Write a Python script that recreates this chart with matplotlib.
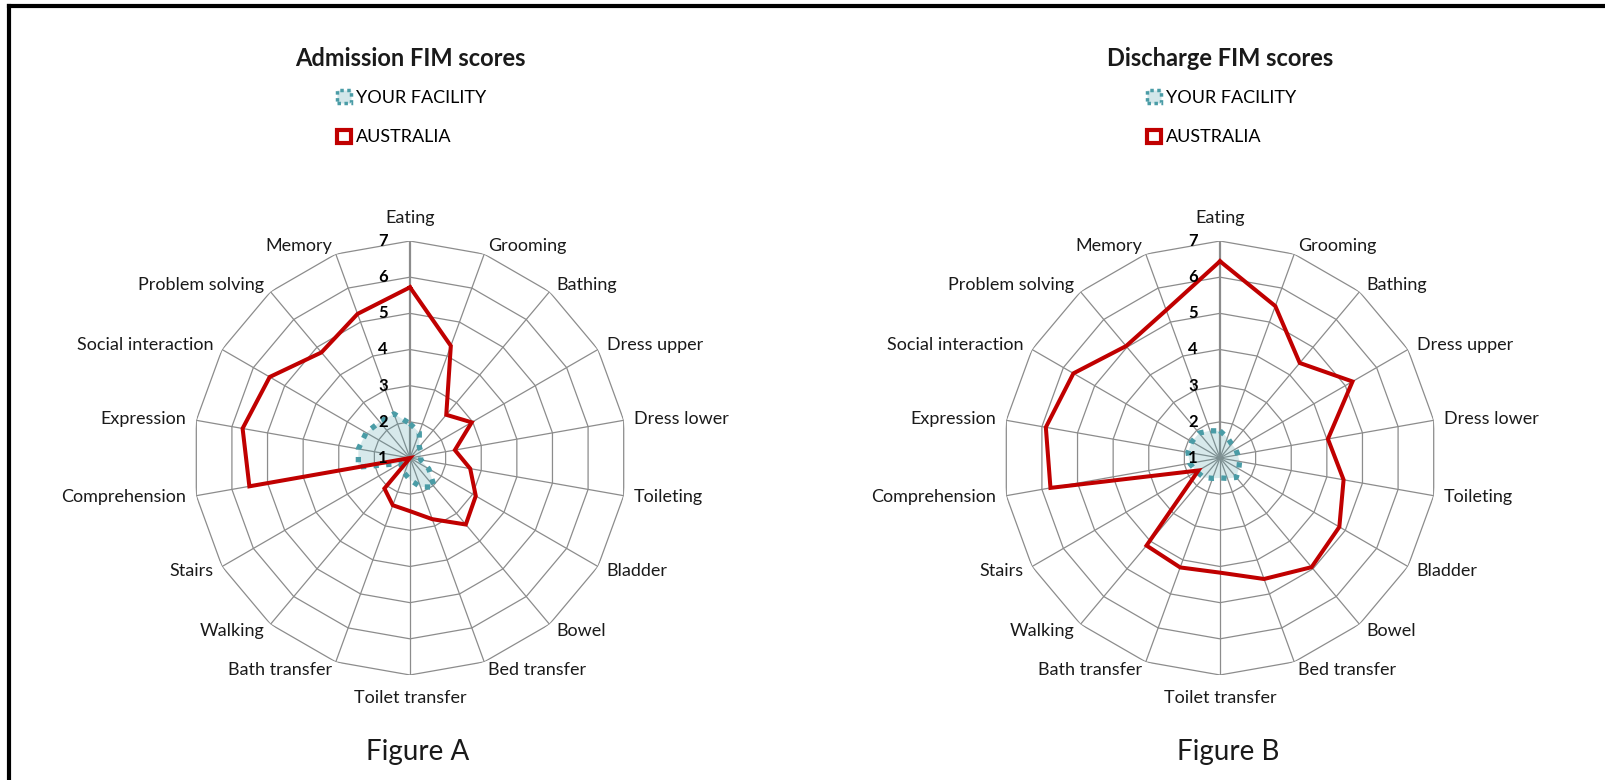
import numpy as np
import matplotlib
matplotlib.use("Agg")
import matplotlib.pyplot as plt
from matplotlib.patches import Patch
from matplotlib.lines import Line2D

plt.rcParams['font.family'] = ['Lato', 'DejaVu Sans']

categories = ['Eating', 'Grooming', 'Bathing', 'Dress upper', 'Dress lower', 'Toileting',
              'Bladder', 'Bowel', 'Bed transfer', 'Toilet transfer', 'Bath transfer',
              'Walking', 'Stairs', 'Comprehension', 'Expression', 'Social interaction',
              'Problem solving', 'Memory']

adm_facility = [1.95, 1.75, 1.4, 1.35, 1.3, 1.3, 1.6, 2.05, 1.85, 1.6, 1.45, 1.35, 1.3,
                2.45, 2.45, 2.4, 2.3, 2.3]
adm_australia = [5.72, 4.3, 2.56, 2.97, 2.26, 2.69, 3.1, 3.4, 2.8, 2.47, 2.39, 2.1, 1.0,
                 5.51, 5.7, 5.48, 4.81, 5.24]
dis_facility = [1.75, 1.6, 1.5, 1.5, 1.5, 1.55, 1.6, 1.7, 1.6, 1.55, 1.6, 1.7, 1.75,
                1.85, 1.9, 1.9, 1.9, 1.8]
dis_australia = [6.44, 5.47, 4.43, 5.23, 4.03, 4.47, 4.81, 4.94, 4.56, 4.17, 4.22, 4.16, 1.69,
                 5.76, 5.89, 5.68, 5.04, 5.35]

rings = [1, 2, 3, 4, 5, 6, 7]
titles = ['Admission FIM scores', 'Discharge FIM scores']
captions = ['Figure A', 'Figure B']
series_names = ['YOUR FACILITY', 'AUSTRALIA']

RED = '#C00000'
TEAL = '#4A9CA6'
GRID = '#8C8C8C'

W, H = 1606, 780
fig = plt.figure(figsize=(W / 100, H / 100), dpi=100)

n = len(categories)
theta = np.arange(n) * 2 * np.pi / n
theta_c = np.append(theta, theta[0])

centers_x = [410, 1220]
center_y = 458
R = 217

panels = [(adm_facility, adm_australia), (dis_facility, dis_australia)]

for k, (fac, aus) in enumerate(panels):
    cx = centers_x[k]
    ax = fig.add_axes([(cx - R) / W, (H - center_y - R) / H, 2 * R / W, 2 * R / H],
                      projection='polar')
    ax.set_theta_zero_location('N')
    ax.set_theta_direction(-1)
    ax.set_ylim(rings[0], rings[-1])
    ax.grid(False)
    ax.spines['polar'].set_visible(False)
    ax.set_xticks([])
    ax.set_yticks([])
    ax.patch.set_alpha(0)

    # polygon gridlines
    for r in rings[1:]:
        ax.plot(theta_c, [r] * (n + 1), color=GRID, lw=0.9, zorder=1)
    for i, t in enumerate(theta):
        ax.plot([t, t], [rings[0], rings[-1]], color=GRID,
                lw=1.6 if i == 0 else 0.9, zorder=1)

    fac_c = np.append(fac, fac[0])
    aus_c = np.append(aus, aus[0])
    ax.fill(theta_c, fac_c, color=TEAL, alpha=0.22, lw=0, zorder=2)
    ax.plot(theta_c, fac_c, color=TEAL, lw=3.8, linestyle=(0, (1, 1.4)),
            dash_capstyle='butt', zorder=3)
    ax.plot(theta_c, aus_c, color=RED, lw=2.9, zorder=4, solid_joinstyle='miter')

    # radial tick labels
    for r in rings:
        ax.annotate(str(r), xy=(0, r), xytext=(-27, 0), textcoords='offset pixels',
                    ha='center', va='center', fontsize=12, fontweight='bold',
                    color='black', zorder=5)

    # category labels
    for t, lab in zip(theta, categories):
        s, c = np.sin(t), np.cos(t)
        if abs(s) < 0.1:
            ha = 'center'
            ox, oy = 0, 23 * np.sign(c)
        else:
            ha = 'left' if s > 0 else 'right'
            ox, oy = 10 * s, 9 * c
        ax.annotate(lab, xy=(t, rings[-1]), xytext=(ox, oy), textcoords='offset pixels',
                    ha=ha, va='center', fontsize=13, color='#1a1a1a',
                    annotation_clip=False)

    fig.text(cx / W, 1 - 59 / H, titles[k], ha='center', va='center',
             fontsize=17, fontweight='bold', color='#1a1a1a')
    fig.text((cx + 8) / W, 1 - 752 / H, captions[k], ha='center', va='center',
             fontsize=20, color='#1a1a1a')

    handles = [Patch(facecolor='#D3E7EA', edgecolor=TEAL, lw=2.5, linestyle=(0, (1, 1))),
               Patch(facecolor='white', edgecolor=RED, lw=3)]
    ax.legend(handles, series_names, loc='upper left',
              bbox_to_anchor=((cx - 73) / W, 1 - 90 / H), bbox_transform=fig.transFigure,
              frameon=False, fontsize=13, borderpad=0, borderaxespad=0,
              handlelength=0.75, handleheight=0.75, handletextpad=0.3, labelspacing=1.3)

# outer border (left and top)
fig.add_artist(Line2D([9 / W, 9 / W], [0, 1 - 6 / H], color='black', lw=3,
                      transform=fig.transFigure))
fig.add_artist(Line2D([9 / W, 1], [1 - 6 / H, 1 - 6 / H], color='black', lw=3,
                      transform=fig.transFigure))

fig.savefig('out.png', dpi=100)
